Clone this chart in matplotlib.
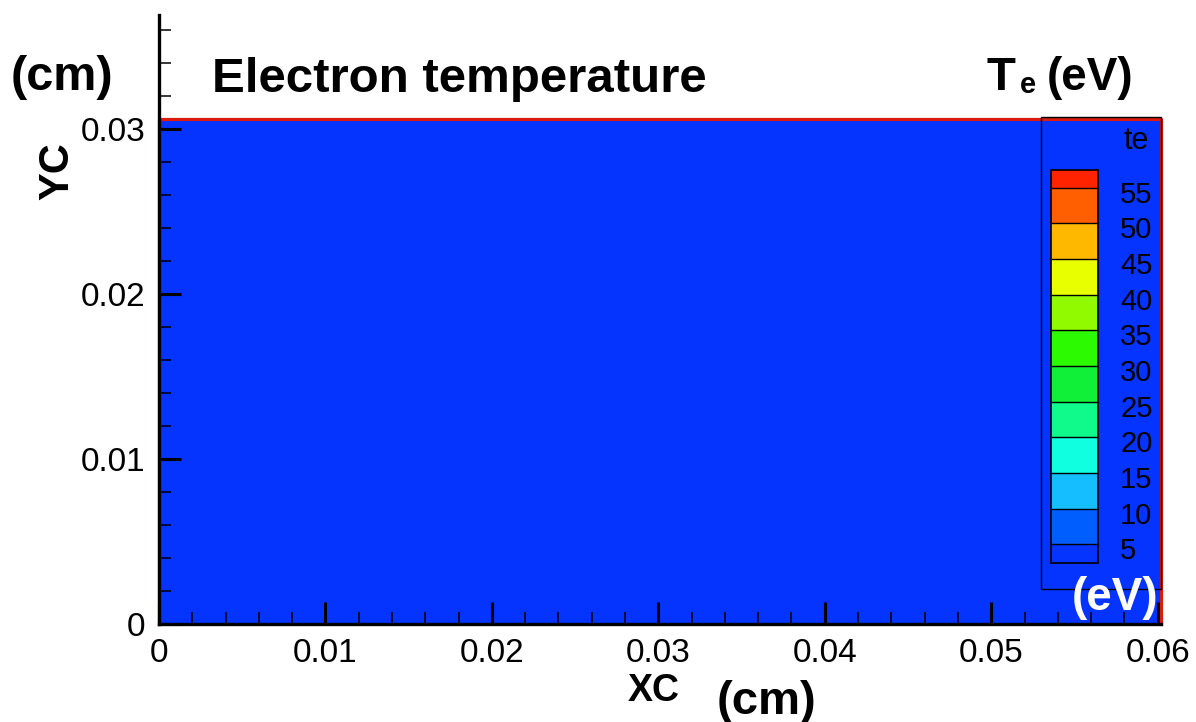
import numpy as np
import matplotlib.pyplot as plt
from matplotlib.colors import ListedColormap, BoundaryNorm
from matplotlib.patches import Rectangle
from matplotlib.ticker import MultipleLocator
from matplotlib.transforms import ScaledTranslation

plt.rcParams['font.family'] = ['Liberation Sans', 'DejaVu Sans']

# domain edges (cm)
x_edges = [0.0, 0.0602]
y_edges = [0.0, 0.0306]
# electron temperature on the domain (eV), uniform and below the lowest level
te_field = [[1.0]]

# contour levels of te and their colours (under, 10 bands, over)
te_levels = [5, 10, 15, 20, 25, 30, 35, 40, 45, 50, 55]
te_under = '#0533ff'
te_colors = ['#005eff', '#14beff', '#10ffe1', '#10fa8c', '#10f038',
             '#2cfa00', '#91fa00', '#e8ff00', '#ffb800', '#ff5f00']
te_over = '#ff2300'

x_ticks = [0, 0.01, 0.02, 0.03, 0.04, 0.05, 0.06]
x_labels = ['0', '0.01', '0.02', '0.03', '0.04', '0.05', '0.06']
y_ticks = [0, 0.01, 0.02, 0.03]
y_labels = ['0', '0.01', '0.02', '0.03']

W, H = 1196, 722
fig = plt.figure(figsize=(W / 100, H / 100), dpi=100)

# main axes: x=0 at px 159, y=0 at px 624 (from top)
ax = fig.add_axes([159 / W, 98 / H, 1002 / W, 609 / H])

cmap = ListedColormap(te_colors)
cmap.set_under(te_under)
cmap.set_over(te_over)
norm = BoundaryNorm(te_levels, cmap.N)

ax.pcolormesh(x_edges, y_edges, te_field, cmap=cmap, norm=norm, zorder=1)

# red domain boundary
red = '#d91c0f'
ax.plot([x_edges[0], x_edges[0], x_edges[1], x_edges[1]],
        [y_edges[0], y_edges[1], y_edges[1], y_edges[0]],
        color=red, lw=2.3, clip_on=False, zorder=2)

ax.set_xlim(0, 0.0602)
ax.set_ylim(0, 0.0369)
ax.spines['top'].set_visible(False)
ax.spines['right'].set_visible(False)
for s in ['left', 'bottom']:
    ax.spines[s].set_linewidth(2.4)
    ax.spines[s].set_zorder(3)

ax.set_xticks(x_ticks)
ax.set_xticklabels(x_labels)
ax.set_yticks(y_ticks)
ax.set_yticklabels(y_labels)
ax.xaxis.set_minor_locator(MultipleLocator(0.002))
ax.yaxis.set_minor_locator(MultipleLocator(0.002))
ax.tick_params(which='major', direction='in', length=16, width=2.2,
               labelsize=24, top=False, right=False)
ax.tick_params(which='minor', direction='in', length=8.5, width=1.1,
               top=False, right=False)
ax.tick_params(axis='x', which='major', pad=10)
ax.tick_params(axis='y', which='major', pad=10)

# legend frame
fig.patches.append(Rectangle((1041 / W, 1 - 589 / H), 120 / W, 472 / H,
                             transform=fig.transFigure, fill=False,
                             edgecolor='black', lw=1.0, zorder=5))

# colour legend (axes spans the end boxes too)
cax = fig.add_axes([1051 / W, 1 - 562.6 / H, 47 / W, 393 / H])
cb = fig.colorbar(plt.cm.ScalarMappable(norm=norm, cmap=cmap), cax=cax,
                  extend='both', extendrect=True, extendfrac=0.051,
                  drawedges=True, ticks=te_levels)
cb.outline.set_linewidth(1.2)
cb.dividers.set_linewidth(1.0)
cb.dividers.set_color('black')
cax.tick_params(length=0, labelsize=21, pad=16)
# labels sit a little below their level line
shift = ScaledTranslation(0, -0.04, fig.dpi_scale_trans)
for lbl in cax.get_yticklabels():
    lbl.set_transform(lbl.get_transform() + shift)
fig.text(1123 / W, 1 - 141 / H, 'te', fontsize=22, va='center', ha='left')

# titles and labels
fig.text(11 / W, 1 - 90 / H, '(cm)', fontsize=35, fontweight='bold',
         va='baseline', ha='left')
fig.text(212 / W, 1 - 92 / H, 'Electron temperature', fontsize=35.5,
         fontweight='bold', va='baseline', ha='left')
fig.text(987 / W, 1 - 90 / H, 'T', fontsize=34, fontweight='bold',
         va='baseline', ha='left')
fig.text(1020 / W, 1 - 93 / H, 'e', fontsize=21, fontweight='bold',
         va='baseline', ha='left')
fig.text(1133 / W, 1 - 90 / H, '(eV)', fontsize=33, fontweight='bold',
         va='baseline', ha='right')
fig.text(57 / W, 1 - 171 / H, 'YC', fontsize=30, fontweight='bold',
         rotation=90, va='center', ha='center')
fig.text(654 / W, 1 - 691 / H, 'XC', fontsize=27, fontweight='bold',
         va='center', ha='center')
fig.text(717 / W, 1 - 714 / H, '(cm)', fontsize=34, fontweight='bold',
         va='baseline', ha='left')
fig.text(1158 / W, 1 - 610 / H, '(eV)', fontsize=33, fontweight='bold',
         color='white', va='baseline', ha='right', zorder=6)

fig.savefig('out.png', dpi=100)
